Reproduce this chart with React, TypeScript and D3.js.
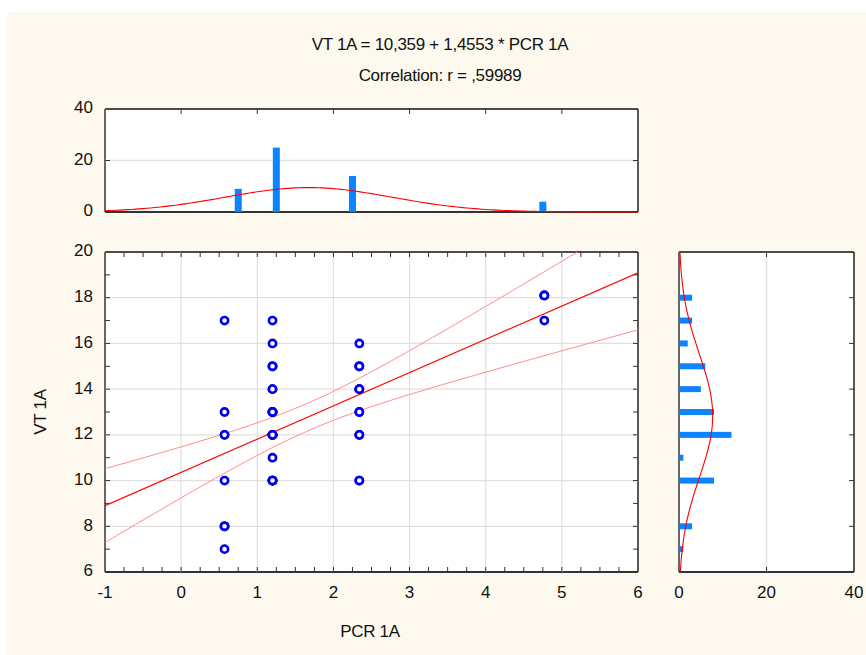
import React from 'react';
import * as d3 from 'd3';

// PCR 1A (x) and VT 1A (y), one entry per case
const pcrValues = [
  0.57, 0.57, 0.57, 0.57, 0.57, 0.57, 0.57, 0.57, 0.57,
  1.2, 1.2, 1.2, 1.2, 1.2, 1.2, 1.2, 1.2, 1.2, 1.2, 1.2, 1.2, 1.2,
  1.2, 1.2, 1.2, 1.2, 1.2, 1.2, 1.2, 1.2, 1.2, 1.2, 1.2, 1.2,
  2.34, 2.34, 2.34, 2.34, 2.34, 2.34, 2.34, 2.34, 2.34, 2.34, 2.34, 2.34, 2.34, 2.34,
  4.77, 4.77, 4.77, 4.77,
];
const vtValues = [
  17, 13, 12, 12, 10, 8, 8, 8, 7,
  17, 16, 15, 15, 15, 14, 14, 13, 13, 13, 13, 13, 12, 12,
  12, 12, 12, 12, 12, 11, 10, 10, 10, 10, 10,
  16, 15, 15, 15, 14, 14, 14, 13, 13, 12, 12, 12, 10, 10,
  18.1, 18.1, 18.1, 17,
];

const intercept = 10.359;
const slope = 1.4553;
const correlation = ',59989';

const xTicks = [-1, 0, 1, 2, 3, 4, 5, 6];
const yTicks = [6, 8, 10, 12, 14, 16, 18, 20];
const countTicks = [0, 20, 40];

const font = '"Liberation Sans", Arial, sans-serif';
const bg = '#fef9ee';
const barColor = '#0a84ff';

export default function App() {
  // scales
  const x = d3.scaleLinear().domain([-1, 6]).range([105, 638]);
  const y = d3.scaleLinear().domain([6, 20]).range([572, 252]);
  const topY = d3.scaleLinear().domain([0, 40]).range([212, 109]);
  const rightX = d3.scaleLinear().domain([0, 40]).range([679, 854]);

  const n = pcrValues.length;

  // histograms
  const topBins = d3.bin().domain([-1, 6]).thresholds(d3.range(-0.5, 6, 0.5))(pcrValues);
  const rightBins = d3.bin().domain([5.5, 20.5]).thresholds(d3.range(6.5, 20.5, 1))(vtValues);

  // normal fits
  const mx = d3.mean(pcrValues)!;
  const sx = d3.deviation(pcrValues)!;
  const my = d3.mean(vtValues)!;
  const sy = d3.deviation(vtValues)!;
  const pdf = (v: number, m: number, s: number) =>
    Math.exp(-0.5 * ((v - m) / s) ** 2) / (s * Math.sqrt(2 * Math.PI));

  const topCurve = d3.line<number>()
    .x(v => x(v))
    .y(v => topY(n * 0.5 * pdf(v, mx, sx)))(d3.range(-1, 6.001, 0.05));
  const rightCurve = d3.line<number>()
    .x(v => rightX(n * 1 * pdf(v, my, sy)))
    .y(v => y(v))(d3.range(6, 20.001, 0.05));

  // regression + 95% confidence band
  const sxx = d3.sum(pcrValues, v => (v - mx) ** 2);
  const sse = d3.sum(pcrValues, (v, i) => (vtValues[i] - (intercept + slope * v)) ** 2);
  const se = Math.sqrt(sse / (n - 2));
  const t = 2.009;
  const band = (v: number) => t * se * Math.sqrt(1 / n + (v - mx) ** 2 / sxx);
  const xs = d3.range(-1, 6.001, 0.05);
  const fit = d3.line<number>().x(v => x(v)).y(v => y(intercept + slope * v));
  const upper = d3.line<number>().x(v => x(v)).y(v => y(intercept + slope * v + band(v)));
  const lower = d3.line<number>().x(v => x(v)).y(v => y(intercept + slope * v - band(v)));

  const tick = 5;
  const frame = (x0: number, y0: number, x1: number, y1: number) => (
    <g>
      <rect x={x0} y={y0} width={x1 - x0} height={y1 - y0} fill="#fff" />
      <line x1={x0} y1={y0} x2={x1} y2={y0} stroke="#111" strokeWidth={1.5} />
      <line x1={x1} y1={y0} x2={x1} y2={y1} stroke="#222" strokeWidth={1.5} />
      <line x1={x0} y1={y0} x2={x0} y2={y1} stroke="#666" strokeWidth={2} />
      <line x1={x0} y1={y1} x2={x1} y2={y1} stroke="#333" strokeWidth={2} />
    </g>
  );

  return (
    <svg width={866} height={655} style={{ position: 'absolute', left: 0, top: 0 }} fontFamily={font}>
      <rect x={0} y={0} width={866} height={655} fill="#fff" />
      <rect x={7} y={12} width={859} height={643} fill={bg} />
      <defs>
        <clipPath id="main-clip">
          <rect x={105} y={252} width={533} height={320} />
        </clipPath>
      </defs>

      {/* title */}
      <text x={440} y={50} textAnchor="middle" fontSize={17} fill="#111" letterSpacing={-0.3}>
        {`VT 1A = ${String(intercept).replace('.', ',')} + ${String(slope).replace('.', ',')} * PCR 1A`}
      </text>
      <text x={440} y={81} textAnchor="middle" fontSize={17} fill="#111" letterSpacing={-0.3}>
        {`Correlation: r = ${correlation}`}
      </text>

      {/* top histogram */}
      {frame(105, 109, 638, 212)}
      <line x1={105} x2={638} y1={topY(20)} y2={topY(20)} stroke="#e4e4e4" strokeWidth={1.5} />
      {xTicks.slice(1, -1).map(v => (
        <line key={v} x1={x(v)} x2={x(v)} y1={109} y2={109 + tick} stroke="#333" />
      ))}
      <line x1={105} x2={105 + tick} y1={topY(20)} y2={topY(20)} stroke="#333" />
      <line x1={638 - tick} x2={638} y1={topY(20)} y2={topY(20)} stroke="#333" />
      {topBins.filter(b => b.length > 0).map((b, i) => (
        <rect key={i} x={x((b.x0! + b.x1!) / 2) - 3.5} width={7}
          y={topY(b.length)} height={topY(0) - topY(b.length)} fill={barColor} />
      ))}
      <path d={topCurve!} fill="none" stroke="#ff0000" strokeWidth={1.1} />
      {countTicks.map(v => (
        <text key={v} x={93} y={topY(v)} textAnchor="end" dominantBaseline="middle" fontSize={17} fill="#111">{v}</text>
      ))}

      {/* main scatter */}
      {frame(105, 252, 638, 572)}
      {xTicks.slice(1, -1).map(v => (
        <line key={v} x1={x(v)} x2={x(v)} y1={252} y2={572} stroke="#e0e0e0" strokeWidth={1.2} />
      ))}
      {yTicks.slice(1, -1).map(v => (
        <line key={v} x1={105} x2={638} y1={y(v)} y2={y(v)} stroke="#e0e0e0" strokeWidth={1.2} />
      ))}
      {d3.range(-0.75, 6, 0.25).map(v => (
        <g key={v}>
          <line x1={x(v)} x2={x(v)} y1={252} y2={252 + tick} stroke="#333" />
          <line x1={x(v)} x2={x(v)} y1={572} y2={572 - tick} stroke="#333" />
        </g>
      ))}
      {d3.range(7, 20, 1).map(v => (
        <g key={v}>
          <line x1={105} x2={105 + tick} y1={y(v)} y2={y(v)} stroke="#333" />
          <line x1={638} x2={638 - tick} y1={y(v)} y2={y(v)} stroke="#333" />
        </g>
      ))}
      <g clipPath="url(#main-clip)">
        <path d={upper(xs)!} fill="none" stroke="#ff8c8c" strokeWidth={1} />
        <path d={lower(xs)!} fill="none" stroke="#ff8c8c" strokeWidth={1} />
        <path d={fit([-1, 6])!} fill="none" stroke="#ff0000" strokeWidth={1.2} />
      </g>
      {pcrValues.map((v, i) => (
        <circle key={i} cx={x(v)} cy={y(vtValues[i])} r={3.6} fill="#fff" stroke="#0000ee" strokeWidth={2.6} />
      ))}
      {yTicks.map(v => (
        <text key={v} x={93} y={y(v)} textAnchor="end" dominantBaseline="middle" fontSize={17} fill="#111">{v}</text>
      ))}
      {xTicks.map(v => (
        <text key={v} x={x(v)} y={598} textAnchor="middle" fontSize={17} fill="#111">{v}</text>
      ))}
      <text x={370} y={637} textAnchor="middle" fontSize={17} fill="#111" letterSpacing={-0.3}>PCR 1A</text>
      <text transform="translate(46,412) rotate(-90)" textAnchor="middle" fontSize={17} fill="#111" letterSpacing={-0.3}>VT 1A</text>

      {/* right histogram */}
      {frame(679, 252, 854, 572)}
      <line x1={rightX(20)} x2={rightX(20)} y1={252} y2={572} stroke="#e0e0e0" strokeWidth={1.5} />
      <line x1={rightX(20)} x2={rightX(20)} y1={252} y2={252 + tick} stroke="#333" />
      <line x1={rightX(20)} x2={rightX(20)} y1={572} y2={572 - tick} stroke="#333" />
      {yTicks.slice(1, -1).map(v => (
        <g key={v}>
          <line x1={679} x2={679 + tick} y1={y(v)} y2={y(v)} stroke="#333" />
          <line x1={854} x2={854 - tick} y1={y(v)} y2={y(v)} stroke="#333" />
        </g>
      ))}
      {rightBins.filter(b => b.length > 0).map((b, i) => (
        <rect key={i} x={rightX(0)} width={rightX(b.length) - rightX(0)}
          y={y((b.x0! + b.x1!) / 2) - 3} height={6} fill={barColor} />
      ))}
      <path d={rightCurve!} fill="none" stroke="#ff0000" strokeWidth={1.1} />
      {countTicks.map(v => (
        <text key={v} x={rightX(v)} y={598} textAnchor="middle" fontSize={17} fill="#111">{v}</text>
      ))}
    </svg>
  );
}
